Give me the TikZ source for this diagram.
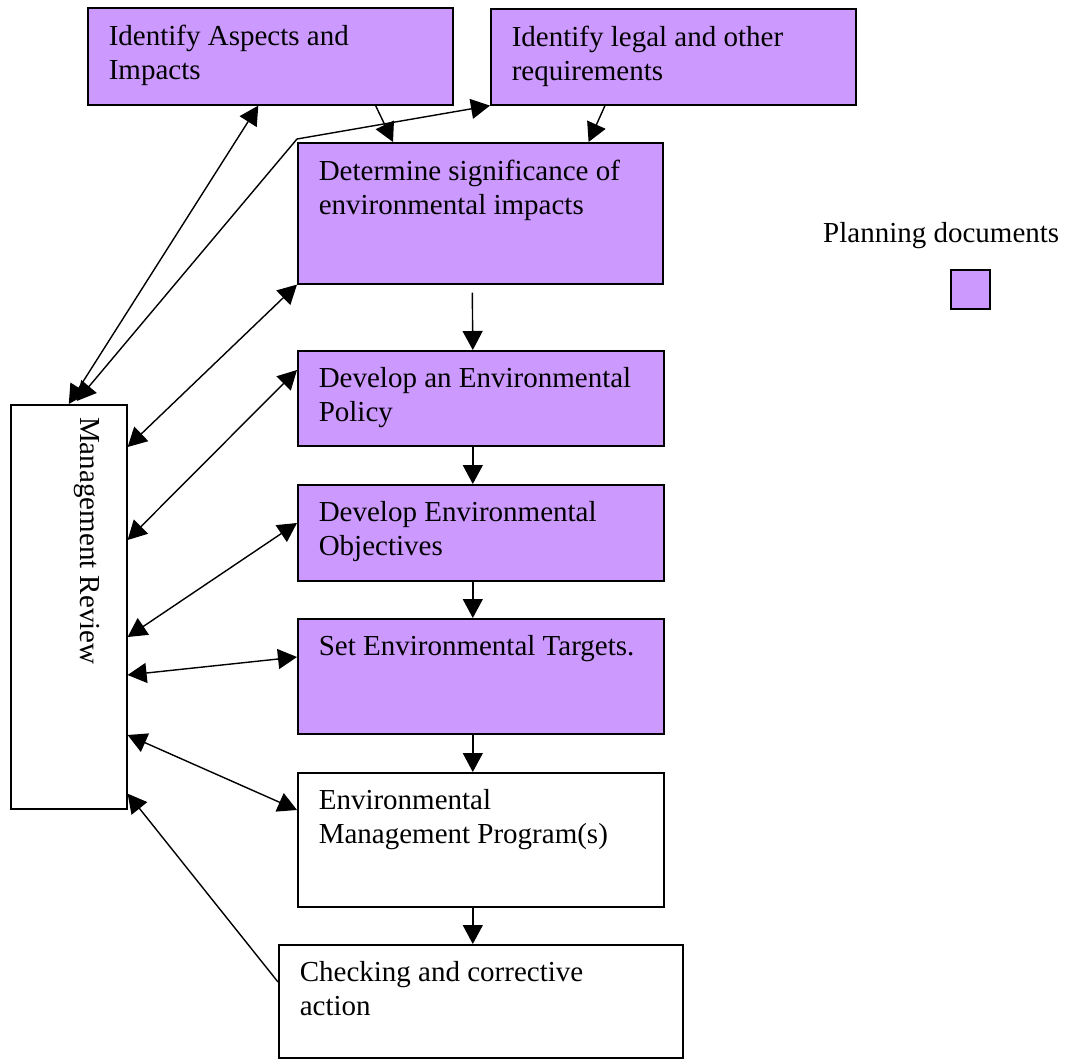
\documentclass[tikz,border=0pt]{standalone}
\usepackage{fontspec}
\setmainfont{Liberation Serif}
\usepackage{xcolor}
\usetikzlibrary{arrows.meta}
\definecolor{plancol}{HTML}{CC99FF}
\newcommand{\boxtext}[3]{\parbox[c][#2][t]{#1}{\raggedright #3}}

\begin{document}
\begin{tikzpicture}[
            x=1pt, y=-1pt,
            font=\fontsize{29}{34}\selectfont,
            stage/.style={rectangle, draw=black, line width=1.6pt, fill=white, anchor=north west, inner xsep=21pt, inner ysep=17pt},
            plan/.style={stage, fill=plancol},
            arrow/.style={line width=1.4pt, -{Triangle[length=19pt, width=20pt]}},
            twoway/.style={line width=1.4pt, {Triangle[length=19pt, width=20pt]}-{Triangle[length=19pt, width=20pt]}}
            ]
            \useasboundingbox (0,0) rectangle (1067,1059);

            \node (aspects) [plan] at (87,7) {\boxtext{323pt}{63pt}{Identify Aspects and\\Impacts}};
            \node (legal) [plan] at (490,8) {\boxtext{323pt}{62pt}{Identify legal and other\\requirements}};
            \node (sig) [plan] at (297,142) {\boxtext{323pt}{107pt}{Determine significance of\\environmental impacts}};
            \node (policy) [plan] at (297,350) {\boxtext{324pt}{61pt}{Develop an Environmental\\Policy}};
            \node (objectives) [plan] at (297,484) {\boxtext{324pt}{62pt}{Develop Environmental\\Objectives}};
            \node (targets) [plan] at (297,618) {\boxtext{324pt}{81pt}{Set Environmental Targets.}};
            \node (program) [stage] at (297,772) {\boxtext{324pt}{100pt}{Environmental\\Management Program(s)}};
            \node (checking) [stage] at (278,944) {\boxtext{362pt}{79pt}{Checking and corrective\\action}};

            \node (review) [stage, inner sep=0pt, minimum width=116pt, minimum height=404pt] at (10,404) {};
            \node (reviewlabel) [rotate=-90, anchor=base west, inner sep=0pt] at (80,417) {Management Review};

            \node (legendtext) [anchor=base west, inner sep=0pt] at (823,243) {Planning documents};
            \node (legendkey) [plan, inner sep=0pt, minimum size=39pt] at (950,269) {};

            % main line down the middle
            \draw [arrow] ([xshift=-78pt]aspects.south east) -- ([xshift=96pt]sig.north west);
            \draw [arrow] ([xshift=115pt]legal.south west) -- ([xshift=-75pt]sig.north east);
            \draw [arrow] ([xshift=-8pt,yshift=-8pt]sig.south) -- ([xshift=-8pt]policy.north);
            \draw [arrow] ([xshift=-8pt]policy.south) -- ([xshift=-8pt]objectives.north);
            \draw [arrow] ([xshift=-8pt]objectives.south) -- ([xshift=-8pt]targets.north);
            \draw [arrow] ([xshift=-8pt]targets.south) -- ([xshift=-8pt]program.north);
            \draw [arrow] ([xshift=-8pt]program.south) -- ([xshift=-8pt]checking.north);

            % links to the review
            \coordinate (bend) at ([yshift=3pt]sig.north west);
            \draw [twoway] (review.north) -- ([xshift=-12pt]aspects.south);
            \draw [twoway] ([xshift=8pt,yshift=3pt]review.north) -- (bend) -- (legal.south west);
            \draw [twoway] ([yshift=-43pt]review.north east) -- (sig.south west);
            \draw [twoway] ([yshift=-136pt]review.north east) -- ([yshift=-20pt]policy.north west);
            \draw [twoway] ([yshift=-233pt]review.north east) -- ([yshift=-39pt]objectives.north west);
            \draw [twoway] ([yshift=-271pt]review.north east) -- ([yshift=-39pt]targets.north west);
            \draw [twoway] ([yshift=-331pt]review.north east) -- ([yshift=-38pt]program.north west);
            \draw [arrow] ([yshift=-38pt]checking.north west) -- ([yshift=16pt]review.south east);
        \end{tikzpicture}
\end{document}
